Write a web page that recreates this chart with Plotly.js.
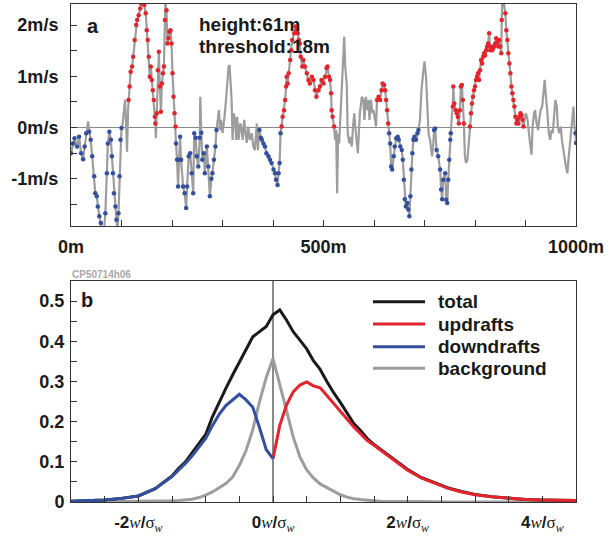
<!DOCTYPE html>
<html>
<head>
<meta charset="utf-8">
<script src="https://cdn.plot.ly/plotly-3.0.1.min.js"></script>
<style>html,body{margin:0;padding:0;background:#fff;} #chart{width:608px;height:536px;}</style>
</head>
<body>
<div id="chart"></div>
<script>
// ---------- panel a: vertical velocity along the flight track ----------
const distanceM = [0,4,7,12,16,20,24,27,30,34,36,39,42,46,48,51,53,56,59,61,65,68,71,73,76,79,81,83,85,88,90,92,94,96,98,100,
102,105,107,109,111,113,114,116,118,121,123,126,129,131,134,137,139,143,145,148,150,152,154,156,158,160,162,164,166,167,168,170,172,174,176,178,180,182,184,186,187,189,191,193,195,197,199,201,203,205,207,
208,210,212,214,216,218,222,225,228,230,233,236,239,242,244,247,249,252,255,256,258,260,263,265,269,272,275,278,280,283,286,288,
291,293,295,297,300,302,304,307,310,312,314,316,318,320,322,325,327,329,332,335,337,340,343,345,348,351,354,358,361,364,368,370,
373,376,378,381,384,387,391,394,397,401,404,406,409,411,413,415,
417,419,422,424,426,427,429,431,434,436,438,442,445,447,449,451,453,455,458,460,463,467,470,473,477,480,483,486,490,493,496,500,503,506,508,511,513,515,516,518,521,
523,525,527,529,531,533,536,539,541,543,546,548,551,553,556,559,561,563,566,568,570,572,576,579,581,584,586,589,591,594,597,599,602,604,
606,609,612,615,617,620,622,624,626,628,
630,632,634,636,639,641,644,647,649,652,655,657,659,661,663,666,668,670,672,674,676,678,680,683,686,688,
691,694,698,700,703,706,708,711,713,715,717,
719,721,724,727,731,733,735,737,741,743,745,747,749,751,752,
754,756,757,759,762,764,766,768,770,772,774,776,778,780,782,785,788,
790,792,794,796,798,800,802,804,806,808,810,812,814,816,818,820,822,824,826,828,830,832,834,836,838,840,842,844,846,848,850,852,853,854,857,860,862,864,866,868,870,872,874,876,878,880,882,884,886,888,890,892,894,896,
899,901,904,906,909,912,914,917,919,922,925,927,930,933,935,938,941,943,946,949,951,954,956,959,962,964,967,970,972,975,978,980,983,985,988,991,993,995,997,999,1000];
const velocityMs = [-0.50,-0.31,-0.21,-0.37,-0.18,-0.50,-0.62,-0.37,-0.11,0.12,-0.08,-0.24,-0.56,-0.95,-1.28,-1.34,-1.54,-1.73,-1.86,-1.99,-2.06,-1.67,-0.89,-0.31,-0.08,-0.24,-0.56,-0.89,-1.28,-1.54,-1.80,-2.06,-1.67,-0.95,-0.24,-0.01,
0.05,0.34,0.54,0.08,-0.47,0.34,0.54,0.80,1.09,1.19,1.38,1.71,2.00,2.10,2.19,2.32,2.42,2.45,2.39,2.23,1.90,1.71,1.38,0.99,1.19,0.93,0.73,0.54,0.21,0.08,-0.21,0.28,1.12,1.48,0.80,0.31,0.86,1.06,1.19,2.10,2.45,2.29,1.64,1.74,1.87,1.90,1.64,1.06,0.60,0.28,0.02,
-0.31,-0.63,-1.15,-0.63,-0.18,-0.63,-1.15,-1.28,-1.57,-1.15,-0.56,-0.50,-0.89,-1.28,-0.11,-0.20,-0.56,-0.76,-0.20,0.60,-0.10,-0.63,-0.50,-0.89,-0.37,-0.76,-1.34,-1.00,-0.89,-0.63,-0.37,-0.05,
0.21,0.34,-0.05,0.15,-0.11,0.02,0.21,0.54,0.86,1.19,1.22,0.86,0.54,-0.24,0.28,0.15,-0.24,0.21,-0.24,0.08,0.02,-0.24,0.15,-0.05,-0.30,0.02,-0.24,-0.11,-0.37,-0.44,0.08,-0.44,
-0.05,-0.20,-0.24,-0.31,-0.37,-0.50,-0.56,-0.63,-0.69,-0.82,-0.89,-1.02,-1.12,-0.89,-0.69,-0.11,
0.02,0.21,0.34,0.54,0.80,0.99,0.86,1.06,1.32,1.51,1.71,1.84,1.97,1.90,1.84,1.71,1.64,1.38,1.19,1.32,1.19,1.06,0.93,0.86,0.99,0.93,0.73,0.60,0.73,0.80,0.93,0.86,0.99,1.16,1.19,0.99,0.93,0.67,0.34,0.21,0.02,
-0.24,-0.05,-1.28,-0.11,-0.31,0.15,0.54,1.19,1.77,1.19,0.86,-0.11,-0.31,-0.18,-0.37,0.08,0.28,0.02,-0.37,-0.50,-0.11,0.28,0.60,0.54,0.15,0.60,0.34,0.54,0.15,0.54,0.28,0.34,0.15,0.02,
0.54,0.60,0.54,0.73,0.86,0.83,0.73,0.54,0.34,0.08,
-0.11,-0.31,-0.76,-0.82,-0.56,-0.37,-0.21,-0.18,-0.24,-0.37,-0.44,-0.63,-1.02,-1.40,-1.54,-1.47,-1.60,-1.73,-1.34,-0.82,-0.50,-0.24,-0.18,-0.24,-0.11,-0.05,
0.15,0.73,1.12,1.29,0.99,0.34,-0.11,-0.24,-0.37,-0.56,-0.37,
-0.05,-0.02,-0.44,-0.56,-0.82,-1.21,-1.40,-1.02,-0.89,-1.41,-1.47,-1.02,-0.63,-0.24,-0.11,
0.21,0.41,0.80,0.47,0.34,0.28,0.21,0.08,0.34,0.80,0.83,0.54,0.08,-0.56,-0.69,-0.63,-0.24,
0.02,0.28,0.47,0.60,0.73,0.80,0.93,0.99,1.06,0.93,1.12,1.32,1.25,1.38,1.45,1.41,1.51,1.58,1.64,1.84,1.51,1.58,1.51,1.55,1.58,1.64,1.74,1.67,1.58,1.71,1.58,1.45,2.10,2.45,2.45,2.23,1.90,1.71,1.45,1.25,1.06,0.80,0.67,0.54,0.41,0.21,0.08,0.15,0.08,0.21,0.28,0.24,0.15,0.02,
0.21,0.28,0.15,-0.11,-0.31,-0.53,0.02,0.28,0.34,0.08,-0.05,0.15,0.34,0.41,0.60,0.93,0.54,0.34,-0.11,-0.24,-0.05,-0.11,0.15,0.54,0.41,0.02,-0.11,0.02,-0.24,-0.50,-0.63,-0.76,-0.89,-0.63,-0.31,0.02,0.34,0.41,0.02,-0.11,-0.30];
const updraftRangesM = [[114,207],[417,521],[606,628],[756,778],[790,896]];
const downdraftRangesM = [[0,100],[208,288],[373,415],[630,688],[719,752],[999,1000]];
const heightLabel = 'height:61m';
const thresholdLabel = 'threshold:18m';

// ---------- panel b: probability densities ----------
const uBins = [-3.0,-2.75,-2.5,-2.25,-2.0,-1.75,-1.5,-1.4,-1.3,-1.2,-1.1,-1.0,-0.9,-0.8,-0.7,-0.6,-0.5,-0.4,-0.3,-0.2,-0.1,0,
0.1,0.2,0.3,0.4,0.5,0.6,0.7,0.8,0.9,1.0,1.1,1.2,1.3,1.4,1.5,1.6,1.8,2.0,2.2,2.4,2.6,2.8,3.0,3.25,3.5,3.75,4.0,4.25,4.5];
const totalPdf = [0.002,0.003,0.005,0.009,0.015,0.033,0.065,0.084,0.100,0.123,0.145,0.168,0.212,0.249,0.283,0.316,0.349,0.378,0.411,0.424,0.437,0.466,
0.478,0.453,0.424,0.403,0.381,0.352,0.330,0.300,0.272,0.248,0.220,0.195,0.178,0.158,0.143,0.131,0.106,0.081,0.061,0.048,0.035,0.026,0.019,0.013,0.009,0.006,0.005,0.004,0.004];
const updraftPdf = [null,null,null,null,null,null,null,null,null,null,null,null,null,null,null,null,null,null,null,null,null,0.108,
0.190,0.241,0.274,0.291,0.299,0.289,0.284,0.265,0.245,0.225,0.205,0.187,0.170,0.153,0.141,0.128,0.104,0.079,0.060,0.047,0.034,0.025,0.018,0.013,0.009,0.006,0.005,0.004,0.004];
const downdraftPdf = [0.002,0.003,0.005,0.009,0.015,0.033,0.063,0.080,0.096,0.115,0.136,0.158,0.190,0.218,0.240,0.255,0.268,0.254,0.236,0.185,0.130,0.108,
null,null,null,null,null,null,null,null,null,null,null,null,null,null,null,null,null,null,null,null,null,null,null,null,null,null,null,null,null];
const backgroundPdf = [0,0,0.001,0.001,0.002,0.002,0.003,0.004,0.005,0.007,0.011,0.017,0.025,0.036,0.046,0.062,0.091,0.128,0.180,0.250,0.310,0.357,
0.295,0.228,0.162,0.112,0.080,0.060,0.045,0.036,0.026,0.018,0.012,0.008,0.006,0.004,0.003,0.002,0.001,0.001,0.001,0,0,0,0,0,0,0,0,0,0];
const seriesNames = ['total','updrafts','downdrafts','background'];

// ---------- ticks and tick labels ----------
const distTickVals = [0,500,1000];
const distTickText = ['0m','500m','1000m'];
const distMinorTicks = [100,200,300,400,600,700,800,900];
const velTickVals = [-1,0,1,2];
const velTickText = ['-1m/s','0m/s','1m/s','2m/s'];
const velMinorTicks = [-1.5,-0.5,0.5,1.5];
const pdfTickVals = [0,0.1,0.2,0.3,0.4,0.5];
const pdfTickText = ['0','0.1','0.2','0.3','0.4','0.5'];
const pdfMinorTicks = [0.05,0.15,0.25,0.35,0.45];
const uTickVals = [-2,0,2,4];
const uTickNums = ['-2','0','2','4'];
const uMinorTicks = [-2.5,-1.5,-1,-0.5,0.5,1,1.5,2.5,3,3.5];

const RED = '#e5232b', BLUE = '#32509f', GRAY = '#9d9d9d', BLACK = '#1a1a1a';

function inRanges(x, ranges){ return ranges.some(r => x >= r[0] && x <= r[1]); }
const upX=[], upY=[], dnX=[], dnY=[];
distanceM.forEach((x,i)=>{
  const w = velocityMs[i];
  if (inRanges(x, updraftRangesM) && w > 0) { upX.push(x); upY.push(w); }
  if (inRanges(x, downdraftRangesM) && w < 0) { dnX.push(x); dnY.push(w); }
});

const uTickText = uTickNums.map(n =>
  '<b>' + n + '</b><span style="font-family:Liberation Serif"><i>w</i></span><b>/</b><span style="font-family:Liberation Serif">σ<sub><i>w</i></sub></span>');

const traces = [
  {x: distanceM, y: velocityMs, type:'scatter', mode:'lines', line:{color:GRAY, width:2.2}, xaxis:'x', yaxis:'y', showlegend:false},
  {x: upX, y: upY, type:'scatter', mode:'markers', marker:{color:RED, size:4.5}, xaxis:'x', yaxis:'y', showlegend:false},
  {x: dnX, y: dnY, type:'scatter', mode:'markers', marker:{color:BLUE, size:4.5}, xaxis:'x', yaxis:'y', showlegend:false},
  {x: uBins, y: backgroundPdf, name: seriesNames[3], type:'scatter', mode:'lines', line:{color:GRAY, width:3}, xaxis:'x2', yaxis:'y2', showlegend:false},
  {x: uBins, y: totalPdf, name: seriesNames[0], type:'scatter', mode:'lines', line:{color:BLACK, width:3}, xaxis:'x2', yaxis:'y2', showlegend:false},
  {x: uBins, y: updraftPdf, name: seriesNames[1], type:'scatter', mode:'lines', line:{color:RED, width:3}, xaxis:'x2', yaxis:'y2', showlegend:false},
  {x: uBins, y: downdraftPdf, name: seriesNames[2], type:'scatter', mode:'lines', line:{color:BLUE, width:3}, xaxis:'x2', yaxis:'y2', showlegend:false}
];

const W = 608, H = 536, L = 71, R = 32, T = 4, B = 34;
const pw = W - L - R, ph = H - T - B;
const px = v => (v - L) / pw;
const py = v => (H - B - v) / ph;

const axisCommon = {showline:true, mirror:true, linecolor:'#333', linewidth:1, ticks:'inside', ticklen:6, tickwidth:1, tickcolor:'#333',
  showgrid:false, zeroline:false, tickmode:'array', fixedrange:true};
const minorCommon = {ticks:'inside', ticklen:6, tickwidth:1, tickcolor:'#333', showgrid:false, tickmode:'array'};
const boldTick = {family:'Liberation Sans, Arial, sans-serif', size:18, color:BLACK, weight:'bold'};

const legendColors = [BLACK, RED, BLUE, GRAY];
const legendRows = [301.7, 324, 346.7, 368.3];
const shapes = [], annotations = [];
seriesNames.forEach((n,i)=>{
  shapes.push({type:'line', xref:'paper', yref:'paper', x0:px(373), x1:px(425), y0:py(legendRows[i]), y1:py(legendRows[i]), line:{color:legendColors[i], width:3}});
  annotations.push({xref:'paper', yref:'paper', x:px(436), y:py(legendRows[i]), xanchor:'left', yanchor:'middle', showarrow:false, text:n,
    font:{family:'Liberation Sans, Arial, sans-serif', size:19, color:BLACK, weight:'bold'}});
});
annotations.push({xref:'paper', yref:'paper', x:px(85), y:py(26), xanchor:'left', yanchor:'middle', showarrow:false, text:'a',
  font:{family:'Liberation Sans, Arial, sans-serif', size:20, color:BLACK, weight:'bold'}});
annotations.push({xref:'paper', yref:'paper', x:px(79), y:py(300), xanchor:'left', yanchor:'middle', showarrow:false, text:'b',
  font:{family:'Liberation Sans, Arial, sans-serif', size:20, color:BLACK, weight:'bold'}});
annotations.push({xref:'paper', yref:'paper', x:px(197), y:py(25), xanchor:'left', yanchor:'middle', showarrow:false, text:heightLabel,
  font:{family:'Liberation Sans, Arial, sans-serif', size:19, color:BLACK, weight:'bold'}});
annotations.push({xref:'paper', yref:'paper', x:px(197), y:py(46), xanchor:'left', yanchor:'middle', showarrow:false, text:thresholdLabel,
  font:{family:'Liberation Sans, Arial, sans-serif', size:19, color:BLACK, weight:'bold'}});
annotations.push({xref:'paper', yref:'paper', x:px(70), y:py(274), xanchor:'left', yanchor:'middle', showarrow:false, text:'CP50714h06',
  font:{family:'Liberation Sans, Arial, sans-serif', size:10, color:'#a8a8a8', weight:'bold'}});

const layout = {
  width:W, height:H, margin:{l:L, r:R, t:T, b:B}, paper_bgcolor:'#fff', plot_bgcolor:'#fff', showlegend:false,
  xaxis: Object.assign({}, axisCommon, {domain:[0,1], anchor:'y', range:[0,1000], tickvals:distTickVals, ticktext:distTickText, tickfont:boldTick, ticklabelstandoff:4,
    minor:Object.assign({}, minorCommon, {tickvals:distMinorTicks})}),
  yaxis: Object.assign({}, axisCommon, {domain:[py(226),1], anchor:'x', range:[-1.92,2.41], tickvals:velTickVals, ticktext:velTickText, tickfont:boldTick,
    zeroline:true, zerolinecolor:'#8a8a8a', zerolinewidth:1.5, ticklabelstandoff:8, minor:Object.assign({}, minorCommon, {tickvals:velMinorTicks})}),
  xaxis2: Object.assign({}, axisCommon, {domain:[0,1], anchor:'y2', range:[-3,4.5], tickvals:uTickVals, ticktext:uTickText,
    tickfont:{family:'Liberation Sans, Arial, sans-serif', size:17, color:BLACK}, zeroline:true, zerolinecolor:'#8a8a8a', zerolinewidth:1.5, ticklabelstandoff:5,
    minor:Object.assign({}, minorCommon, {tickvals:uMinorTicks})}),
  yaxis2: Object.assign({}, axisCommon, {domain:[0,py(281)], anchor:'x2', range:[0,0.55], tickvals:pdfTickVals, ticktext:pdfTickText, tickfont:boldTick, ticklabelstandoff:2,
    minor:Object.assign({}, minorCommon, {tickvals:pdfMinorTicks})}),
  shapes: shapes,
  annotations: annotations
};

Plotly.newPlot('chart', traces, layout, {staticPlot:true, displayModeBar:false});
</script>
</body>
</html>
